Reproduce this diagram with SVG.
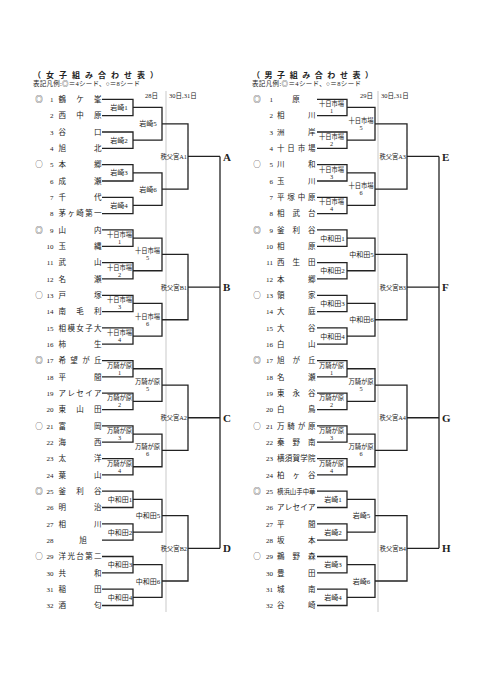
<svg xmlns="http://www.w3.org/2000/svg" width="481" height="680" viewBox="0 0 481 680">
<style>
text{font-family:"Liberation Serif","Noto Sans CJK JP",serif;fill:#222}
.ttl{font-size:8px;font-weight:bold}
.lg{font-size:6.5px}
.hd{font-size:6.5px}
.mk{font-family:"Noto Sans CJK JP","DejaVu Sans",sans-serif;font-size:7.5px;text-anchor:middle}
.num{font-size:7px;text-anchor:end}
.nm{font-size:7.5px}
.c{font-size:7.5px;text-anchor:middle}
.l1{font-size:7px;text-anchor:middle}
.l2{font-size:6.3px;text-anchor:middle}
.l3{font-size:6.3px;text-anchor:end}
.ltr{font-size:11px;font-weight:bold}
.cn{fill:none;stroke:#222;stroke-width:1.3}
.gr{fill:none;stroke:#bbb;stroke-width:0.8}
</style>
<rect width="481" height="680" fill="#fff"/>
<g id="header-left">
<text class="ttl" x="33" y="77.5" textLength="125">（女子組み合わせ表）</text>
<text class="lg" x="33" y="86.3" textLength="107">表記凡例:◎＝4シード、○＝8シード</text>
<text class="hd" x="158" y="97.5" text-anchor="end">28日</text>
<text class="hd" x="169" y="97.5">30日,31日</text>
</g>
<g id="header-right">
<text class="ttl" x="252" y="77.5" textLength="121">（男子組み合わせ表）</text>
<text class="lg" x="252" y="86.3" textLength="109">表記凡例:◎＝4シード、○＝8シード</text>
<text class="hd" x="373" y="97.5" text-anchor="end">29日</text>
<text class="hd" x="381" y="97.5">30日,31日</text>
</g>
<g id="connectors">
<path class="gr" d="M166 91V612M378 91V612"/>
<path class="cn" d="M102 99.3H133V115.6H102M102 132H133V148.3H102M133 107.45H162V140.15H133M102 164.6H133V181H102M102 197.3H133V213.6H102M133 172.8H162V205.45H133M162 123.8H188V189.1H162M188 156.45H220"/>
<path class="cn" d="M102 229.9H133V246.3H102M102 262.6H133V278.9H102M133 238.1H162V270.75H133M102 295.3H133V311.6H102M102 327.9H133V344.2H102M133 303.45H162V336.05H133M162 254.4H188V319.75H162M188 287.1H220"/>
<path class="cn" d="M102 360.6H133V376.9H102M102 393.2H133V409.6H102M133 368.75H162V401.4H133M102 425.9H133V442.2H102M102 458.6H133V474.9H102M133 434.05H162V466.75H133M162 385.1H188V450.4H162M188 417.75H220"/>
<path class="cn" d="M102 491.2H133V507.5H102M102 523.9H133V540.2H102M133 499.35H162V532.05H133M102 556.5H133V572.9H102M102 589.2H133V605.5H102M133 564.7H162V597.35H133M162 515.7H188V581H162M188 548.35H220"/>
<path class="cn" d="M220 156.45V548.35"/>
<path class="cn" d="M317 99.3H347V115.6H317M317 132H347V148.3H317M347 107.45H375V140.15H347M317 164.6H347V181H317M317 197.3H347V213.6H317M347 172.8H375V205.45H347M375 123.8H407V189.1H375M407 156.45H439"/>
<path class="cn" d="M317 229.9H347V246.3H317M317 262.6H347V278.9H317M347 238.1H375V270.75H347M317 295.3H347V311.6H317M317 327.9H347V344.2H317M347 303.45H375V336.05H347M375 254.4H407V319.75H375M407 287.1H439"/>
<path class="cn" d="M317 360.6H347V376.9H317M317 393.2H347V409.6H317M347 368.75H375V401.4H347M317 425.9H347V442.2H317M317 458.6H347V474.9H317M347 434.05H375V466.75H347M375 385.1H407V450.4H375M407 417.75H439"/>
<path class="cn" d="M317 491.2H347V507.5H317M317 523.9H347V540.2H317M347 499.35H375V532.05H347M317 556.5H347V572.9H317M317 589.2H347V605.5H317M347 564.7H375V597.35H347M375 515.7H407V581H375M407 548.35H439"/>
<path class="cn" d="M439 156.45V548.35"/>
</g>
<g id="women-entries">
<g id="w1"><text class="mk" x="39" y="102">◎</text><text class="num" x="53.5" y="102">1</text><text class="nm" x="58.5" y="102" textLength="43">鶴ケ峯</text></g>
<g id="w2"><text class="num" x="53.5" y="118.3">2</text><text class="nm" x="58.5" y="118.3" textLength="43">西中原</text></g>
<g id="w3"><text class="num" x="53.5" y="134.7">3</text><text class="nm" x="58.5" y="134.7" textLength="43">谷口</text></g>
<g id="w4"><text class="num" x="53.5" y="151">4</text><text class="nm" x="58.5" y="151" textLength="43">旭北</text></g>
<g id="w5"><text class="mk" x="39" y="167.3">○</text><text class="num" x="53.5" y="167.3">5</text><text class="nm" x="58.5" y="167.3" textLength="43">本郷</text></g>
<g id="w6"><text class="num" x="53.5" y="183.7">6</text><text class="nm" x="58.5" y="183.7" textLength="43">成瀬</text></g>
<g id="w7"><text class="num" x="53.5" y="200">7</text><text class="nm" x="58.5" y="200" textLength="43">千代</text></g>
<g id="w8"><text class="num" x="53.5" y="216.3">8</text><text class="nm" x="58.5" y="216.3" textLength="43">茅ヶ崎第一</text></g>
<g id="w9"><text class="mk" x="39" y="232.6">◎</text><text class="num" x="53.5" y="232.6">9</text><text class="nm" x="58.5" y="232.6" textLength="43">山内</text></g>
<g id="w10"><text class="num" x="53.5" y="249">10</text><text class="nm" x="58.5" y="249" textLength="43">玉縄</text></g>
<g id="w11"><text class="num" x="53.5" y="265.3">11</text><text class="nm" x="58.5" y="265.3" textLength="43">武山</text></g>
<g id="w12"><text class="num" x="53.5" y="281.6">12</text><text class="nm" x="58.5" y="281.6" textLength="43">名瀬</text></g>
<g id="w13"><text class="mk" x="39" y="298">○</text><text class="num" x="53.5" y="298">13</text><text class="nm" x="58.5" y="298" textLength="43">戸塚</text></g>
<g id="w14"><text class="num" x="53.5" y="314.3">14</text><text class="nm" x="58.5" y="314.3" textLength="43">南毛利</text></g>
<g id="w15"><text class="num" x="53.5" y="330.6">15</text><text class="nm" x="58.5" y="330.6" textLength="43">相模女子大</text></g>
<g id="w16"><text class="num" x="53.5" y="346.9">16</text><text class="nm" x="58.5" y="346.9" textLength="43">柿生</text></g>
<g id="w17"><text class="mk" x="39" y="363.3">◎</text><text class="num" x="53.5" y="363.3">17</text><text class="nm" x="58.5" y="363.3" textLength="43">希望が丘</text></g>
<g id="w18"><text class="num" x="53.5" y="379.6">18</text><text class="nm" x="58.5" y="379.6" textLength="43">平間</text></g>
<g id="w19"><text class="num" x="53.5" y="395.9">19</text><text class="nm" x="58.5" y="395.9" textLength="43">アレセイア</text></g>
<g id="w20"><text class="num" x="53.5" y="412.3">20</text><text class="nm" x="58.5" y="412.3" textLength="43">東山田</text></g>
<g id="w21"><text class="mk" x="39" y="428.6">○</text><text class="num" x="53.5" y="428.6">21</text><text class="nm" x="58.5" y="428.6" textLength="43">富岡</text></g>
<g id="w22"><text class="num" x="53.5" y="444.9">22</text><text class="nm" x="58.5" y="444.9" textLength="43">海西</text></g>
<g id="w23"><text class="num" x="53.5" y="461.3">23</text><text class="nm" x="58.5" y="461.3" textLength="43">太洋</text></g>
<g id="w24"><text class="num" x="53.5" y="477.6">24</text><text class="nm" x="58.5" y="477.6" textLength="43">葉山</text></g>
<g id="w25"><text class="mk" x="39" y="493.9">◎</text><text class="num" x="53.5" y="493.9">25</text><text class="nm" x="58.5" y="493.9" textLength="43">釜利谷</text></g>
<g id="w26"><text class="num" x="53.5" y="510.2">26</text><text class="nm" x="58.5" y="510.2" textLength="43">明治</text></g>
<g id="w27"><text class="num" x="53.5" y="526.6">27</text><text class="nm" x="58.5" y="526.6" textLength="43">相川</text></g>
<g id="w28"><text class="num" x="53.5" y="542.9">28</text><text class="c" x="83" y="542.9">旭</text></g>
<g id="w29"><text class="mk" x="39" y="559.2">○</text><text class="num" x="53.5" y="559.2">29</text><text class="nm" x="58.5" y="559.2" textLength="43">洋光台第二</text></g>
<g id="w30"><text class="num" x="53.5" y="575.6">30</text><text class="nm" x="58.5" y="575.6" textLength="43">共和</text></g>
<g id="w31"><text class="num" x="53.5" y="591.9">31</text><text class="nm" x="58.5" y="591.9" textLength="43">稲田</text></g>
<g id="w32"><text class="num" x="53.5" y="608.2">32</text><text class="nm" x="58.5" y="608.2" textLength="43">酒匂</text></g>
</g>
<g id="men-entries">
<g id="m1"><text class="mk" x="257" y="102">◎</text><text class="num" x="273" y="102">1</text><text class="c" x="296" y="102">原</text></g>
<g id="m2"><text class="num" x="273" y="118.3">2</text><text class="nm" x="277" y="118.3" textLength="38.5">相川</text></g>
<g id="m3"><text class="num" x="273" y="134.7">3</text><text class="nm" x="277" y="134.7" textLength="38.5">洲岸</text></g>
<g id="m4"><text class="num" x="273" y="151">4</text><text class="nm" x="277" y="151" textLength="38.5">十日市場</text></g>
<g id="m5"><text class="mk" x="257" y="167.3">○</text><text class="num" x="273" y="167.3">5</text><text class="nm" x="277" y="167.3" textLength="38.5">川和</text></g>
<g id="m6"><text class="num" x="273" y="183.7">6</text><text class="nm" x="277" y="183.7" textLength="38.5">玉川</text></g>
<g id="m7"><text class="num" x="273" y="200">7</text><text class="nm" x="277" y="200" textLength="38.5">平塚中原</text></g>
<g id="m8"><text class="num" x="273" y="216.3">8</text><text class="nm" x="277" y="216.3" textLength="38.5">相武台</text></g>
<g id="m9"><text class="mk" x="257" y="232.6">◎</text><text class="num" x="273" y="232.6">9</text><text class="nm" x="277" y="232.6" textLength="38.5">釜利谷</text></g>
<g id="m10"><text class="num" x="273" y="249">10</text><text class="nm" x="277" y="249" textLength="38.5">相原</text></g>
<g id="m11"><text class="num" x="273" y="265.3">11</text><text class="nm" x="277" y="265.3" textLength="38.5">西生田</text></g>
<g id="m12"><text class="num" x="273" y="281.6">12</text><text class="nm" x="277" y="281.6" textLength="38.5">本郷</text></g>
<g id="m13"><text class="mk" x="257" y="298">○</text><text class="num" x="273" y="298">13</text><text class="nm" x="277" y="298" textLength="38.5">領家</text></g>
<g id="m14"><text class="num" x="273" y="314.3">14</text><text class="nm" x="277" y="314.3" textLength="38.5">大庭</text></g>
<g id="m15"><text class="num" x="273" y="330.6">15</text><text class="nm" x="277" y="330.6" textLength="38.5">大谷</text></g>
<g id="m16"><text class="num" x="273" y="346.9">16</text><text class="nm" x="277" y="346.9" textLength="38.5">白山</text></g>
<g id="m17"><text class="mk" x="257" y="363.3">◎</text><text class="num" x="273" y="363.3">17</text><text class="nm" x="277" y="363.3" textLength="38.5">旭が丘</text></g>
<g id="m18"><text class="num" x="273" y="379.6">18</text><text class="nm" x="277" y="379.6" textLength="38.5">名瀬</text></g>
<g id="m19"><text class="num" x="273" y="395.9">19</text><text class="nm" x="277" y="395.9" textLength="38.5">東永谷</text></g>
<g id="m20"><text class="num" x="273" y="412.3">20</text><text class="nm" x="277" y="412.3" textLength="38.5">白鳥</text></g>
<g id="m21"><text class="mk" x="257" y="428.6">○</text><text class="num" x="273" y="428.6">21</text><text class="nm" x="277" y="428.6" textLength="38.5">万騎が原</text></g>
<g id="m22"><text class="num" x="273" y="444.9">22</text><text class="nm" x="277" y="444.9" textLength="38.5">秦野南</text></g>
<g id="m23"><text class="num" x="273" y="461.3">23</text><text class="nm" x="277" y="461.3" textLength="38.5">横須賀学院</text></g>
<g id="m24"><text class="num" x="273" y="477.6">24</text><text class="nm" x="277" y="477.6" textLength="38.5">柏ヶ谷</text></g>
<g id="m25"><text class="mk" x="257" y="493.9">◎</text><text class="num" x="273" y="493.9">25</text><text class="nm" x="277" y="493.9" style="font-size:6.3px" textLength="38.5" lengthAdjust="spacingAndGlyphs">横浜山手中華</text></g>
<g id="m26"><text class="num" x="273" y="510.2">26</text><text class="nm" x="277" y="510.2" textLength="38.5">アレセイア</text></g>
<g id="m27"><text class="num" x="273" y="526.6">27</text><text class="nm" x="277" y="526.6" textLength="38.5">平間</text></g>
<g id="m28"><text class="num" x="273" y="542.9">28</text><text class="nm" x="277" y="542.9" textLength="38.5">坂本</text></g>
<g id="m29"><text class="mk" x="257" y="559.2">○</text><text class="num" x="273" y="559.2">29</text><text class="nm" x="277" y="559.2" textLength="38.5">鵜野森</text></g>
<g id="m30"><text class="num" x="273" y="575.6">30</text><text class="nm" x="277" y="575.6" textLength="38.5">豊田</text></g>
<g id="m31"><text class="num" x="273" y="591.9">31</text><text class="nm" x="277" y="591.9" textLength="38.5">城南</text></g>
<g id="m32"><text class="num" x="273" y="608.2">32</text><text class="nm" x="277" y="608.2" textLength="38.5">谷崎</text></g>
</g>
<g id="women-matches">
<g id="wA"><text class="l1" x="119" y="110">岩崎1</text><text class="l1" x="119" y="142.6">岩崎2</text><text class="l1" x="119" y="175.3">岩崎3</text><text class="l1" x="119" y="208">岩崎4</text><text class="l1" x="148" y="126.3">岩崎5</text><text class="l1" x="148" y="191.6">岩崎6</text><text class="l3" x="187" y="159">秩父宮A1</text></g>
<g id="wB"><text class="l2" x="119.5" y="237.1">十日市場</text><text class="l2" x="119.5" y="244.1">1</text><text class="l2" x="119.5" y="269.75">十日市場</text><text class="l2" x="119.5" y="276.75">2</text><text class="l2" x="119.5" y="302.45">十日市場</text><text class="l2" x="119.5" y="309.45">3</text><text class="l2" x="119.5" y="335.05">十日市場</text><text class="l2" x="119.5" y="342.05">4</text><text class="l2" x="147.5" y="253.4">十日市場</text><text class="l2" x="147.5" y="260.4">5</text><text class="l2" x="147.5" y="318.75">十日市場</text><text class="l2" x="147.5" y="325.75">6</text><text class="l3" x="187" y="289.6">秩父宮B1</text></g>
<g id="wC"><text class="l2" x="119.5" y="367.75">万騎が原</text><text class="l2" x="119.5" y="374.75">1</text><text class="l2" x="119.5" y="400.4">万騎が原</text><text class="l2" x="119.5" y="407.4">2</text><text class="l2" x="119.5" y="433.05">万騎が原</text><text class="l2" x="119.5" y="440.05">3</text><text class="l2" x="119.5" y="465.75">万騎が原</text><text class="l2" x="119.5" y="472.75">4</text><text class="l2" x="147.5" y="384.1">万騎が原</text><text class="l2" x="147.5" y="391.1">5</text><text class="l2" x="147.5" y="449.4">万騎が原</text><text class="l2" x="147.5" y="456.4">6</text><text class="l3" x="187" y="420.25">秩父宮A2</text></g>
<g id="wD"><text class="l1" x="120" y="501.85">中和田1</text><text class="l1" x="120" y="534.55">中和田2</text><text class="l1" x="120" y="567.2">中和田3</text><text class="l1" x="120" y="599.85">中和田4</text><text class="l1" x="148" y="518.2">中和田5</text><text class="l1" x="148" y="583.5">中和田6</text><text class="l3" x="187" y="550.85">秩父宮B2</text></g>
</g>
<g id="men-matches">
<g id="mE"><text class="l2" x="331.5" y="106.45">十日市場</text><text class="l2" x="331.5" y="113.45">1</text><text class="l2" x="331.5" y="139.15">十日市場</text><text class="l2" x="331.5" y="146.15">2</text><text class="l2" x="331.5" y="171.8">十日市場</text><text class="l2" x="331.5" y="178.8">3</text><text class="l2" x="331.5" y="204.45">十日市場</text><text class="l2" x="331.5" y="211.45">4</text><text class="l2" x="361" y="122.8">十日市場</text><text class="l2" x="361" y="129.8">5</text><text class="l2" x="361" y="188.1">十日市場</text><text class="l2" x="361" y="195.1">6</text><text class="l3" x="406" y="159">秩父宮A3</text></g>
<g id="mF"><text class="l1" x="332.5" y="240.6">中和田1</text><text class="l1" x="332.5" y="273.25">中和田2</text><text class="l1" x="332.5" y="305.95">中和田3</text><text class="l1" x="332.5" y="338.55">中和田4</text><text class="l1" x="361.5" y="256.9">中和田5</text><text class="l1" x="361.5" y="322.25">中和田6</text><text class="l3" x="406" y="289.6">秩父宮B3</text></g>
<g id="mG"><text class="l2" x="331.5" y="367.75">万騎が原</text><text class="l2" x="331.5" y="374.75">1</text><text class="l2" x="331.5" y="400.4">万騎が原</text><text class="l2" x="331.5" y="407.4">2</text><text class="l2" x="331.5" y="433.05">万騎が原</text><text class="l2" x="331.5" y="440.05">3</text><text class="l2" x="331.5" y="465.75">万騎が原</text><text class="l2" x="331.5" y="472.75">4</text><text class="l2" x="361" y="384.1">万騎が原</text><text class="l2" x="361" y="391.1">5</text><text class="l2" x="361" y="449.4">万騎が原</text><text class="l2" x="361" y="456.4">6</text><text class="l3" x="406" y="420.25">秩父宮A4</text></g>
<g id="mH"><text class="l1" x="333" y="501.85">岩崎1</text><text class="l1" x="333" y="534.55">岩崎2</text><text class="l1" x="333" y="567.2">岩崎3</text><text class="l1" x="333" y="599.85">岩崎4</text><text class="l1" x="361.5" y="518.2">岩崎5</text><text class="l1" x="361.5" y="583.5">岩崎6</text><text class="l3" x="406" y="550.85">秩父宮B4</text></g>
</g>
<g id="finals">
<text class="ltr" x="223" y="160.5">A</text>
<text class="ltr" x="223" y="291">B</text>
<text class="ltr" x="223" y="421.5">C</text>
<text class="ltr" x="223" y="552">D</text>
<text class="ltr" x="442" y="160.5">E</text>
<text class="ltr" x="442" y="291">F</text>
<text class="ltr" x="442" y="421.5">G</text>
<text class="ltr" x="442" y="552">H</text>
</g>
</svg>
